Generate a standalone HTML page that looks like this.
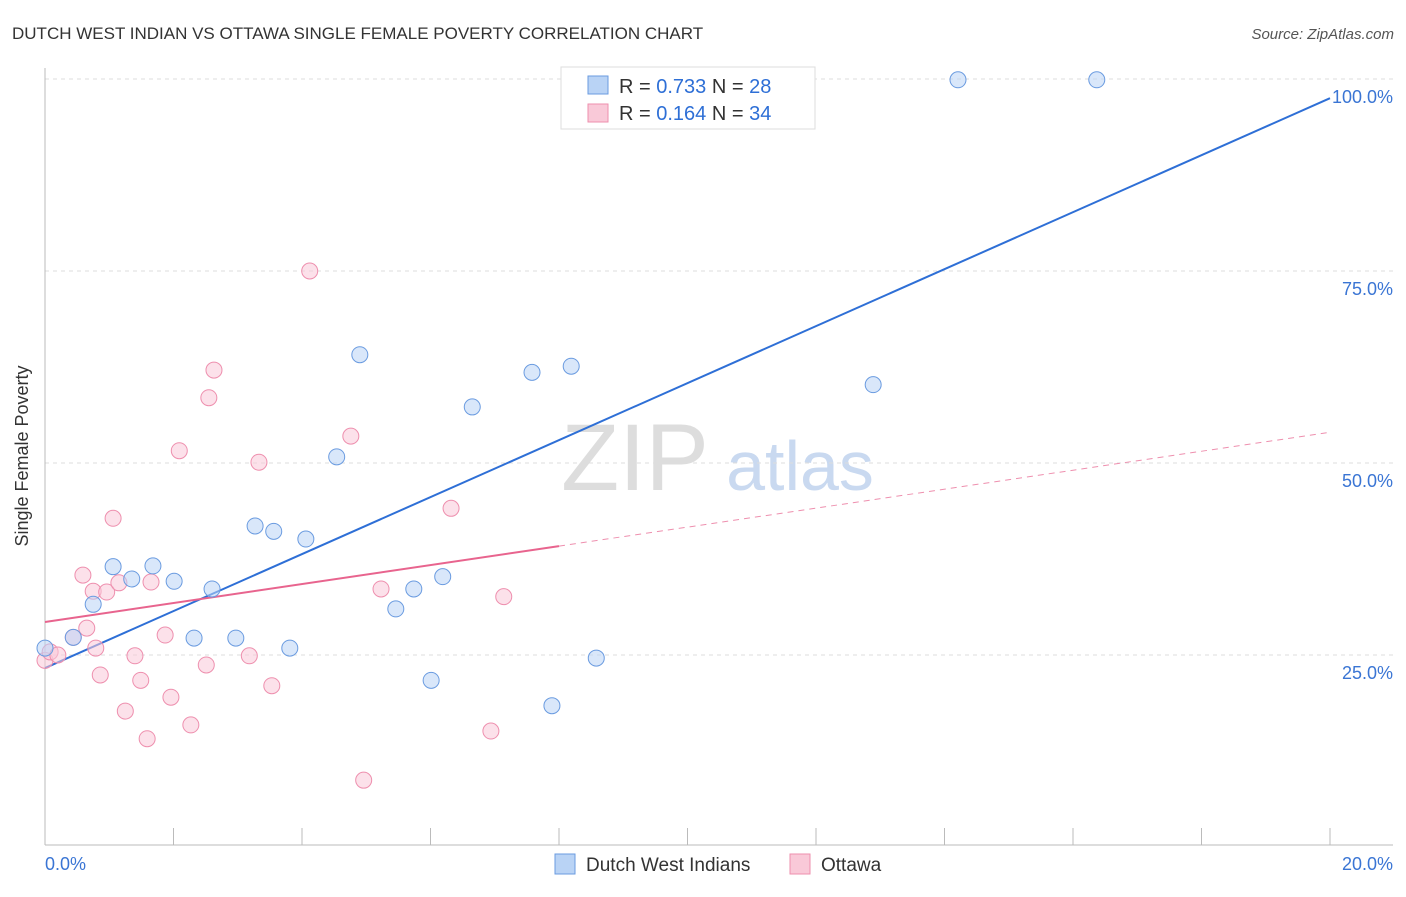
<!DOCTYPE html>
<html><head><meta charset="utf-8">
<style>
body{margin:0;background:#fff;font-family:"Liberation Sans",sans-serif;}
svg text{font-family:"Liberation Sans",sans-serif;}
</style></head>
<body>
<svg id="chart" width="1406" height="892">
<text x="12" y="39" font-size="17" fill="#333">DUTCH WEST INDIAN VS OTTAWA SINGLE FEMALE POVERTY CORRELATION CHART</text>
<text x="1394" y="39" font-size="15" fill="#555" text-anchor="end" font-style="italic">Source: ZipAtlas.com</text>
<text x="28" y="456" font-size="18" fill="#333" text-anchor="middle" transform="rotate(-90 28 456)">Single Female Poverty</text>
<text x="635" y="490" font-size="95" fill="#ddd" font-family="Liberation Serif" text-anchor="middle">ZIP</text>
<text x="800" y="490" font-size="70" fill="#c9d9f0" text-anchor="middle">atlas</text>
<g id="grid"></g>
<g id="axes"></g>
<g id="lines"></g>
<g id="points"></g>
<g>
<rect x="561" y="67" width="254" height="62" fill="#fff" stroke="#ddd"/>
<rect x="588" y="76" width="20" height="18" fill="#b9d3f5" stroke="#6a9be0"/>
<text x="619" y="93" font-size="20" fill="#333">R = <tspan fill="#2e6fd6">0.733</tspan>   N = <tspan fill="#2e6fd6">28</tspan></text>
<rect x="588" y="104" width="20" height="18" fill="#f9c9d8" stroke="#ee8fae"/>
<text x="619" y="120" font-size="20" fill="#333">R =  <tspan fill="#2e6fd6">0.164</tspan>   N = <tspan fill="#2e6fd6">34</tspan></text>
</g>
<g>
<rect x="555" y="854" width="20" height="20" fill="#b9d3f5" stroke="#6a9be0"/>
<text x="586" y="871" font-size="19" fill="#333">Dutch West Indians</text>
<rect x="790" y="854" width="20" height="20" fill="#f9c9d8" stroke="#ee8fae"/>
<text x="821" y="871" font-size="19" fill="#333">Ottawa</text>
</g>
</svg>
<script>
const blueX=[0,0.44,0.75,1.06,1.35,1.68,2.01,2.32,2.60,2.97,3.27,3.56,3.81,4.06,4.54,4.90,5.46,5.74,6.01,6.19,6.65,7.58,7.89,8.19,8.58,12.89,14.21,16.37];
const blueY=[25.9,27.3,31.6,36.5,34.9,36.6,34.6,27.2,33.6,27.2,41.8,41.1,25.9,40.1,50.8,64.1,31.0,33.6,21.7,35.2,57.3,61.8,18.4,62.6,24.6,60.2,99.9,99.9];
const pinkX=[0,0.08,0.20,0.44,0.59,0.65,0.75,0.79,0.86,0.96,1.06,1.15,1.25,1.40,1.49,1.59,1.65,1.87,1.96,2.09,2.27,2.51,2.55,2.63,3.18,3.33,3.53,4.12,4.76,4.96,5.23,6.32,6.94,7.14];
const pinkY=[24.3,25.4,25.0,27.3,35.4,28.5,33.3,25.9,22.4,33.2,42.8,34.4,17.7,24.9,21.7,14.1,34.5,27.6,19.5,51.6,15.9,23.7,58.5,62.1,24.9,50.1,21.0,75.0,53.5,8.7,33.6,44.1,15.1,32.6];
const blueTrend=[23.3,3.71];
const pinkTrend=[29.3,1.235];
const yTicks=[25,50,75,100];
const yTickLabels=["25.0%","50.0%","75.0%","100.0%"];
const xTickCount=10;
const NS="http://www.w3.org/2000/svg";
const sx=v=>45+v/20*1285;
const sy=v=>847-v*7.68;
function mk(tag,attrs,parent){const e=document.createElementNS(NS,tag);for(const k in attrs)e.setAttribute(k,attrs[k]);document.getElementById(parent).appendChild(e);return e;}
yTicks.forEach((t,i)=>{
 const l=mk('line',{x1:45,x2:1393,y1:sy(t),y2:sy(t),stroke:'#ddd','stroke-dasharray':'4,4'},'grid');
 
 
 const tx=mk('text',{x:1393,y:sy(t)+24,'font-size':18,fill:'#3a75d4','text-anchor':'end'},'grid');
 tx.textContent=yTickLabels[i];
 
 
});
const ax=mk('line',{x1:45,x2:1393,y1:845,y2:845,stroke:'#bbb'},'axes');


const ay=mk('line',{x1:45,x2:45,y1:68,y2:845,stroke:'#bbb'},'axes');


for(let i=0;i<=xTickCount;i++){
 const x=sx(i*20/xTickCount);
 const t=mk('line',{x1:x,x2:x,y1:828,y2:845,stroke:'#bbb'},'axes');
 
 
}
const xl0=mk('text',{x:45,y:870,'font-size':18,fill:'#3a75d4'},'axes');xl0.textContent='0.0%';


const xl1=mk('text',{x:1393,y:870,'font-size':18,fill:'#3a75d4','text-anchor':'end'},'axes');xl1.textContent='20.0%';


function pts(X,Y,fill,stroke,name){X.forEach((x,i)=>{const c=mk('circle',{cx:sx(x),cy:sy(Y[i]),r:8,fill:fill,'fill-opacity':0.55,stroke:stroke,'stroke-width':1},'points');
 
 });}
pts(pinkX,pinkY,'#f9c9d8','#ee8fae','ottawa-point');
pts(blueX,blueY,'#b9d3f5','#6a9be0','dutch-point');
const bl=mk('line',{x1:sx(0),y1:sy(blueTrend[0]),x2:sx(20),y2:sy(blueTrend[0]+blueTrend[1]*20),stroke:'#2e6fd6','stroke-width':2},'lines');


const pl=mk('line',{x1:sx(0),y1:sy(pinkTrend[0]),x2:sx(8),y2:sy(pinkTrend[0]+pinkTrend[1]*8),stroke:'#e8648e','stroke-width':2},'lines');


const pd=mk('line',{x1:sx(8),y1:sy(pinkTrend[0]+pinkTrend[1]*8),x2:sx(20),y2:sy(pinkTrend[0]+pinkTrend[1]*20),stroke:'#ee8fae','stroke-width':1,'stroke-dasharray':'6,5'},'lines');


</script>
</body></html>
